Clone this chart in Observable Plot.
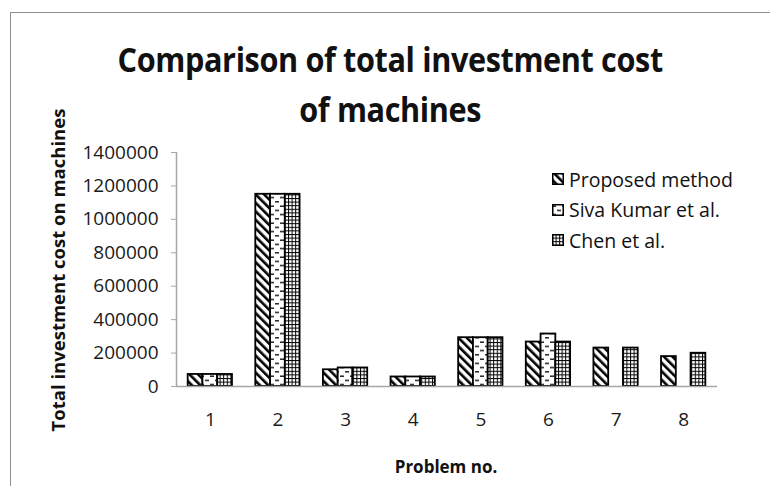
<!DOCTYPE html>
<html>
<head>
<meta charset="utf-8">
<script src="https://cdn.jsdelivr.net/npm/d3@7"></script>
<script src="https://cdn.jsdelivr.net/npm/@observablehq/plot@0.6"></script>
<style>
  html, body { margin: 0; padding: 0; background: #fff; }
  #wrap { position: relative; width: 770px; height: 486px; overflow: hidden; font-family: "Open Sans", sans-serif; color: #111; }
  #border { position: absolute; left: 10px; top: 12px; width: 820px; height: 520px; border: 1.5px solid #8f8f8f; box-sizing: border-box; }
  #title { position: absolute; left: 0; width: 780px; top: 34px; text-align: center; font-weight: 700; font-size: 34px; line-height: 50px; letter-spacing: -0.4px; transform: scaleX(0.9); transform-origin: 392px 0; }
  #ylabel { position: absolute; left: 57px; top: 270px; transform: translate(-50%, -50%) rotate(-90deg); white-space: nowrap; font-weight: 700; font-size: 18.5px; }
  #xlabel { position: absolute; left: 446px; top: 455px; transform: translateX(-50%); white-space: nowrap; font-weight: 700; font-size: 17px; }
  #legend { position: absolute; left: 552px; top: 164px; }
  .item { display: flex; align-items: center; height: 30.5px; font-size: 19.5px; white-space: nowrap; }
  .item svg { margin-right: 5px; }
  #plot { position: absolute; left: 0; top: 0; }
</style>
</head>
<body>
<div id="wrap">
  <div id="border"></div>
  <div id="plot"></div>
  <div id="title">Comparison of total investment cost<br>of machines</div>
  <div id="ylabel">Total investment cost on machines</div>
  <div id="xlabel">Problem no.</div>
  <div id="legend"></div>
</div>
<script>
// ---- data ----
const problems = [1, 2, 3, 4, 5, 6, 7, 8];
const seriesNames = ["Proposed method", "Siva Kumar et al.", "Chen et al."];
const proposed = [72000, 1150000, 100000, 57000, 292000, 266000, 230000, 179000];
const sivaKumar = [72000, 1150000, 111000, 57000, 292000, 314000, null, null];
const chen = [72000, 1150000, 111000, 57000, 292000, 266000, 230000, 199000];
const yTicks = [0, 200000, 400000, 600000, 800000, 1000000, 1200000, 1400000];

const patternIds = ["pat-diag", "pat-dash", "pat-grid"];
const seriesValues = [proposed, sivaKumar, chen];

const rows = [];
seriesValues.forEach((vals, si) => {
  vals.forEach((v, pi) => {
    if (v != null) rows.push({problem: problems[pi], series: seriesNames[si], si, value: v});
  });
});

const groupWidth = 0.655;
const barW = groupWidth / seriesNames.length;

const plot = Plot.plot({
  width: 770,
  height: 486,
  marginLeft: 176,
  marginRight: 53,
  marginTop: 152,
  marginBottom: 100,
  style: {fontFamily: "Open Sans, sans-serif", fontSize: "19px", color: "#1a1a1a", background: "transparent"},
  x: {domain: [0.5, 8.5], axis: null},
  y: {domain: [0, 1400000], axis: null},
  marks: [
    ...seriesNames.map((name, si) =>
      Plot.rectY(rows.filter(d => d.si === si), {
        x1: d => d.problem - groupWidth / 2 + d.si * barW,
        x2: d => d.problem - groupWidth / 2 + (d.si + 1) * barW,
        y1: 0,
        y2: "value",
        fill: "url(#" + patternIds[si] + ")",
        stroke: "#000",
        strokeWidth: 1.8
      })
    ),
    Plot.ruleY([0], {x1: 0.5, x2: 8.5, stroke: "#a6a6a6", strokeWidth: 1.5}),
    Plot.ruleX([0.5], {y1: 0, y2: 1400000, stroke: "#a6a6a6", strokeWidth: 1.5}),
    Plot.axisY({ticks: yTicks, tickSize: 5, tickPadding: 13, stroke: "#a6a6a6", fill: "#1a1a1a", tickFormat: d => String(d), label: null}),
    Plot.axisX({ticks: problems, tickSize: 0, tickPadding: 26, fill: "#1a1a1a", tickFormat: d => String(d), label: null})
  ]
});

const defs = `
<defs>
  <pattern id="pat-diag" patternUnits="userSpaceOnUse" width="6" height="6" patternTransform="rotate(-45)">
    <rect width="6" height="6" fill="#fff"/>
    <rect x="0" y="0" width="2.6" height="6" fill="#000"/>
  </pattern>
  <pattern id="pat-dash" patternUnits="userSpaceOnUse" width="10" height="8.5">
    <rect width="10" height="8.5" fill="#fff"/>
    <rect x="0" y="1.5" width="4" height="1.3" fill="#000"/>
    <rect x="5" y="5.7" width="4" height="1.3" fill="#000"/>
  </pattern>
  <pattern id="pat-grid" patternUnits="userSpaceOnUse" width="3.6" height="3.6">
    <rect width="3.6" height="3.6" fill="#fff"/>
    <rect x="0" y="0" width="1" height="3.6" fill="#000"/>
    <rect x="0" y="0" width="3.6" height="1" fill="#000"/>
  </pattern>
</defs>`;
plot.insertAdjacentHTML("afterbegin", defs);
document.getElementById("plot").appendChild(plot);

// legend
const legend = document.getElementById("legend");
seriesNames.forEach((name, si) => {
  const item = document.createElement("div");
  item.className = "item";
  item.innerHTML = `<svg width="12" height="12"><rect x="0.75" y="0.75" width="10.5" height="10.5" fill="url(#${patternIds[si]})" stroke="#000" stroke-width="1.5"/></svg><span>${name}</span>`;
  legend.appendChild(item);
});
</script>
</body>
</html>
